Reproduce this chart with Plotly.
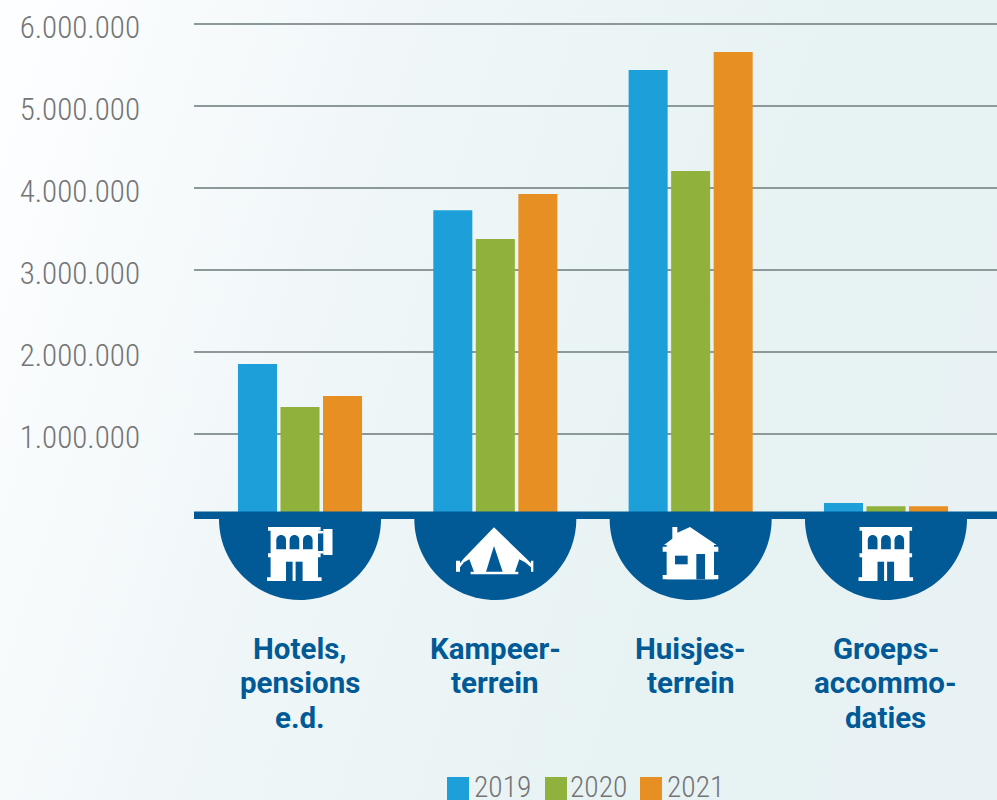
import base64
import plotly.graph_objects as go

categories = ["Hotels,<br>pensions<br>e.d.", "Kampeer-<br>terrein", "Huisjes-<br>terrein", "Groeps-<br>accommo-<br>daties"]
years = ["2019", "2020", "2021"]
values_2019 = [1854000, 3730000, 5440000, 159000]
values_2020 = [1329000, 3378000, 4207000, 120000]
values_2021 = [1463000, 3927000, 5659000, 120000]
y_ticks = [1000000, 2000000, 3000000, 4000000, 5000000, 6000000]
y_labels = ["1.000.000", "2.000.000", "3.000.000", "4.000.000", "5.000.000", "6.000.000"]
colors = ["#1da0da", "#90b13c", "#e78f23"]

NAVY = "#015a96"
GREY = "#757575"
L, R, T, Y0 = 194, 997, 10, 516
UNIT_PX = 82
W, H = 997, 800
STEP = 195.33
CX0 = 300


def px(x):
    return (x - L) / (R - L)


def py(y):
    return (Y0 - y) / (Y0 - T)


def poly(points, color="white"):
    d = "M" + " L".join(f"{px(x):.5f},{py(y):.5f}" for x, y in points) + " Z"
    return dict(type="path", xref="paper", yref="paper", path=d, fillcolor=color,
                line=dict(width=0), layer="above")


def rect(x0, x1, y0, y1, color="white"):
    return poly([(x0, y0), (x1, y0), (x1, y1), (x0, y1)], color)


def half_disc(cx, top, r):
    k = 0.5523 * r
    p = [(cx - r, top), (cx - r, top + k), (cx - k, top + r), (cx, top + r),
         (cx + k, top + r), (cx + r, top + k), (cx + r, top)]
    s = [f"{px(a):.5f},{py(b):.5f}" for a, b in p]
    d = f"M{s[0]} C{s[1]} {s[2]} {s[3]} C{s[4]} {s[5]} {s[6]} Z"
    return dict(type="path", xref="paper", yref="paper", path=d, fillcolor=NAVY,
                line=dict(width=0), layer="above")


def arch_window(x0, x1, y0, y1):
    m = (x0 + x1) / 2
    h = (x1 - x0) * 0.55
    s = [f"{px(a):.5f},{py(b):.5f}" for a, b in
         [(x0, y1), (x0, y0 + h), (x0, y0), (m, y0), (x1, y0), (x1, y0 + h), (x1, y1)]]
    d = f"M{s[0]} L{s[1]} C{s[2]} {s[3]} {s[3]} C{s[3]} {s[4]} {s[5]} L{s[6]} Z"
    return dict(type="path", xref="paper", yref="paper", path=d, fillcolor=NAVY,
                line=dict(width=0), layer="above")


def building(c):
    out = [
        rect(c - 23.7, c + 23.7, 527, 581),
        rect(c - 26.3, c + 26.3, 527, 530.7),
        rect(c - 26.3, c + 26.3, 553.3, 557.3),
        rect(c - 27.3, c + 27.3, 577.3, 581),
    ]
    for a, b in [(-18, -8.3), (-4.7, 5), (8.7, 18.3)]:
        out.append(arch_window(c + a, c + b, 535, 549.3))
    out.append(rect(c - 8.3, c - 1.7, 561.7, 581, NAVY))
    out.append(rect(c + 1.3, c + 8.3, 561.7, 581, NAVY))
    return out


def tz(pts):
    return [(450 + x / 3, 520 + y / 3) for x, y in pts]


def hz(x, y):
    return (600 + x / 3, 490 + y / 3)


shapes = []
# band and half discs
shapes.append(rect(L, R, 511.5, 519, NAVY))
for i in range(4):
    shapes.append(half_disc(CX0 + i * STEP, 519, 81))

# hotel icon
shapes += building(294.3)
shapes.append(rect(323.3, 332.5, 529, 555))
shapes.append(rect(318, 323.5, 531, 533.5))
shapes.append(rect(318, 323.5, 551, 553.5))

# tent icon
shapes.append(poly(tz([(132, 22), (228, 115), (243, 130), (243, 122), (250, 122), (250, 155),
                       (243, 155), (243, 142), (225, 127), (208, 118), (195, 155), (205, 155),
                       (205, 163), (62, 163), (62, 155), (72, 155), (58, 118), (42, 127),
                       (30, 142), (30, 155), (18, 155), (18, 122), (30, 122), (30, 130),
                       (42, 115)])))
shapes.append(poly(tz([(132, 78), (158, 155), (108, 155)]), NAVY))

# house icon
shapes.append(poly([hz(217, 111), hz(232, 111), hz(232, 128), hz(270, 111), hz(350, 165),
                    hz(192, 165), hz(217, 146)]))
shapes.append(poly([hz(200, 165), hz(342, 165), hz(342, 268), hz(200, 268)]))
shapes.append(poly([hz(188, 170), hz(355, 170), hz(355, 185), hz(188, 185)]))
shapes.append(poly([hz(188, 255), hz(355, 255), hz(355, 268), hz(188, 268)]))
shapes.append(poly([hz(225, 197), hz(263, 197), hz(263, 223), hz(225, 223)], NAVY))
shapes.append(poly([hz(289, 192), hz(315, 192), hz(315, 268), hz(289, 268)], NAVY))

# group accommodation icon
shapes += building(885.8)

annotations = []
# category labels
for i, cat in enumerate(categories):
    for j, line in enumerate(cat.split("<br>")):
        annotations.append(dict(xref="paper", yref="paper", x=px(CX0 + i * STEP),
                                y=py(648.5 + j * 34.5), text=line, showarrow=False,
                                xanchor="center", yanchor="middle",
                                font=dict(family="Roboto", size=29.5, color=NAVY, weight="bold")))

# legend
for x0, x1, tx, col, yr in [(447, 469, 472, colors[0], years[0]),
                            (545, 567, 568, colors[1], years[1]),
                            (640, 662, 664.5, colors[2], years[2])]:
    shapes.append(rect(x0, x1, 777, 800, col))
    annotations.append(dict(xref="paper", yref="paper", x=px(tx), y=py(787), text=yr,
                            showarrow=False, xanchor="left", yanchor="middle",
                            font=dict(family="Roboto Condensed", size=29.5, color=GREY, weight=300)))

svg = ('<svg xmlns="http://www.w3.org/2000/svg" width="997" height="800" preserveAspectRatio="none">'
       '<defs><linearGradient id="g" x1="0" y1="0.1" x2="1" y2="0.35">'
       '<stop offset="0" stop-color="#fdfeff"/><stop offset="0.4" stop-color="#eff6f8"/>'
       '<stop offset="0.8" stop-color="#e7f2f3"/><stop offset="1" stop-color="#e8f2f4"/>'
       '</linearGradient></defs><rect width="997" height="800" fill="url(#g)"/></svg>')
bg = "data:image/svg+xml;base64," + base64.b64encode(svg.encode()).decode()

fig = go.Figure()
for yr, vals, col in zip(years, [values_2019, values_2020, values_2021], colors):
    fig.add_bar(name=yr, x=categories, y=vals, marker=dict(color=col, line=dict(width=0)))

fig.update_layout(
    width=W, height=H, autosize=False,
    margin=dict(l=L, r=W - R, t=T, b=H - Y0, pad=0),
    barmode="group", bargap=0.347, bargroupgap=0.082,
    paper_bgcolor="#eef5f7", plot_bgcolor="rgba(0,0,0,0)",
    showlegend=False,
    shapes=shapes, annotations=annotations,
    images=[dict(source=bg, xref="paper", yref="paper", x=px(0), y=py(0),
                 sizex=W / (R - L), sizey=H / (Y0 - T), sizing="stretch",
                 xanchor="left", yanchor="top", layer="below")],
    xaxis=dict(type="category", range=[(L - CX0) / STEP, (R - CX0) / STEP],
               tickmode="array", tickvals=categories, ticks="", showgrid=False,
               zeroline=False, showline=False, showticklabels=False),
    yaxis=dict(range=[0, (Y0 - T) / UNIT_PX * 1000000], tickmode="array", tickvals=y_ticks, ticktext=y_labels,
               ticks="", showline=False, zeroline=False,
               gridcolor="#8d9898", gridwidth=1.5, ticklabelstandoff=53, ticklabelshift=3,
               tickfont=dict(family="Roboto Condensed", size=31, color=GREY, weight=300)),
)
fig.write_html("out.html", config={"displayModeBar": False},
               post_script="document.documentElement.style.margin='0';document.body.style.margin='0';document.body.style.overflow='hidden';")
